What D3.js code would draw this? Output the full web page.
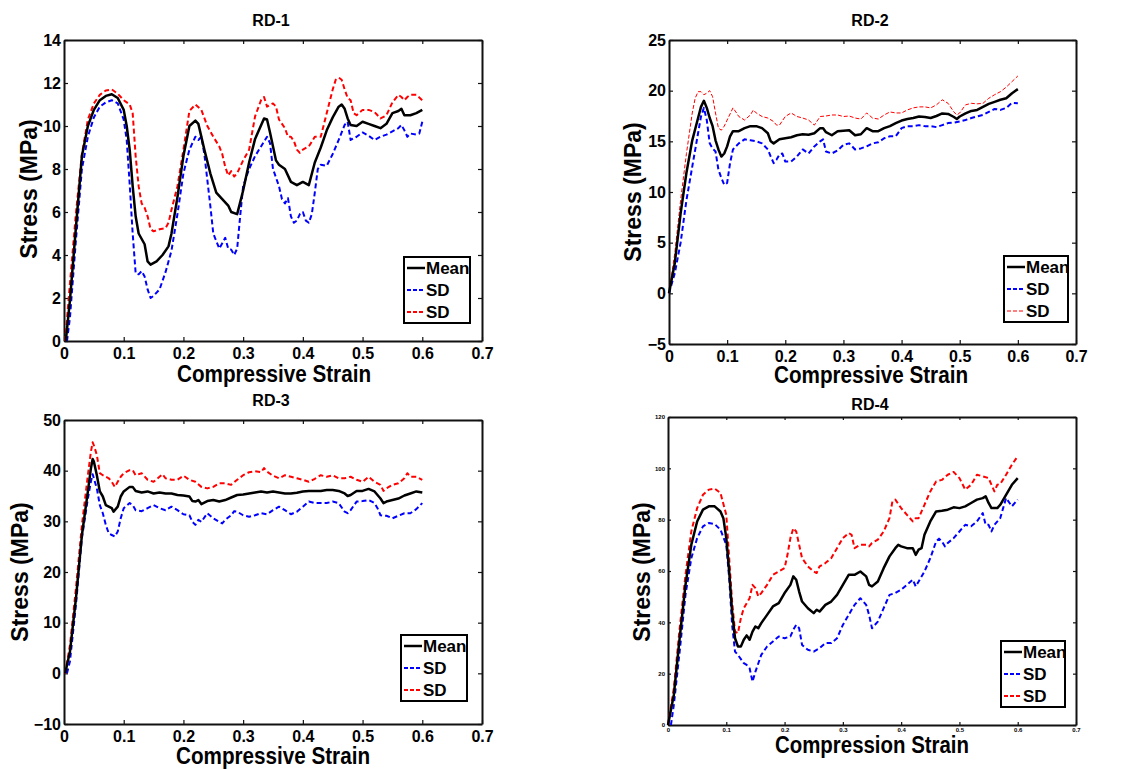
<!DOCTYPE html>
<html><head><meta charset="utf-8">
<script src="https://cdn.jsdelivr.net/npm/d3@7"></script>
<style>
html,body{margin:0;padding:0;background:#fff;}
svg{display:block;font-family:"Liberation Sans",Arial,Helvetica,sans-serif;font-weight:bold;}
</style></head>
<body>
<svg id="chart" width="1144" height="769"></svg>
<script>
// ---------------- DATA ----------------
const xTicks = [0, 0.1, 0.2, 0.3, 0.4, 0.5, 0.6, 0.7];
const rd1YTicks = [0, 2, 4, 6, 8, 10, 12, 14];
const rd2YTicks = [-5, 0, 5, 10, 15, 20, 25];
const rd3YTicks = [-10, 0, 10, 20, 30, 40, 50];
const rd4YTicks = [0, 20, 40, 60, 80, 100, 120];
const legendLabels = ["Mean", "SD", "SD"];
const panelTitles = ["RD-1", "RD-2", "RD-3", "RD-4"];
const xLabels = ["Compressive Strain", "Compressive Strain", "Compressive Strain", "Compression Strain"];
const yLabel = "Stress (MPa)";

// RD-1 [strain, stress]
const rd1Mean = [[0.003,0],[0.01,1.9],[0.02,5.3],[0.03,8.6],[0.04,10.0],[0.05,10.75],[0.06,11.2],[0.07,11.4],[0.08,11.48],[0.09,11.3],[0.1,10.75],[0.105,10.0],[0.11,8.9],[0.115,7.2],[0.12,5.8],[0.125,5.0],[0.135,4.5],[0.14,3.7],[0.145,3.55],[0.155,3.7],[0.165,4.0],[0.175,4.4],[0.18,5.0],[0.19,6.7],[0.2,8.6],[0.21,10.0],[0.22,10.25],[0.225,10.1],[0.235,8.9],[0.245,7.8],[0.255,6.9],[0.265,6.6],[0.275,6.3],[0.28,6.0],[0.29,5.9],[0.3,7.0],[0.31,8.3],[0.32,9.4],[0.335,10.35],[0.34,10.3],[0.345,9.7],[0.355,8.4],[0.36,8.2],[0.37,8.0],[0.38,7.4],[0.39,7.25],[0.4,7.4],[0.41,7.25],[0.42,8.3],[0.43,9.0],[0.44,9.8],[0.45,10.4],[0.46,10.9],[0.465,11.0],[0.47,10.8],[0.475,10.35],[0.48,10.05],[0.49,10.0],[0.5,10.2],[0.51,10.1],[0.52,10.0],[0.53,9.9],[0.54,10.1],[0.55,10.6],[0.56,10.7],[0.565,10.8],[0.57,10.5],[0.58,10.5],[0.59,10.6],[0.6,10.75]];
const rd1SdLow = [[0.005,0],[0.01,1.1],[0.02,4.7],[0.03,8.0],[0.04,9.5],[0.05,10.4],[0.06,10.9],[0.07,11.1],[0.08,11.2],[0.09,11.05],[0.1,10.3],[0.105,9.35],[0.11,7.3],[0.115,5.0],[0.12,3.15],[0.125,3.1],[0.13,3.25],[0.135,3.0],[0.14,2.4],[0.145,2.0],[0.15,2.1],[0.16,2.4],[0.17,3.2],[0.18,4.2],[0.19,5.9],[0.2,7.8],[0.21,8.9],[0.22,9.5],[0.225,9.35],[0.23,9.5],[0.235,8.7],[0.24,7.5],[0.245,6.3],[0.25,5.0],[0.26,4.3],[0.265,4.55],[0.27,4.8],[0.275,4.3],[0.28,4.25],[0.285,4.0],[0.29,4.3],[0.295,5.8],[0.3,7.2],[0.31,8.0],[0.32,8.6],[0.33,9.05],[0.34,9.5],[0.345,9.2],[0.35,8.0],[0.36,7.2],[0.365,6.6],[0.37,6.4],[0.375,6.65],[0.38,5.8],[0.385,5.5],[0.39,5.6],[0.395,5.9],[0.4,6.0],[0.405,5.6],[0.41,5.5],[0.415,5.9],[0.42,6.9],[0.425,8.0],[0.43,8.2],[0.44,8.15],[0.45,8.7],[0.46,9.35],[0.47,10.05],[0.475,10.2],[0.48,9.35],[0.49,9.5],[0.5,9.7],[0.51,9.55],[0.52,9.35],[0.53,9.5],[0.54,9.6],[0.55,9.75],[0.56,9.9],[0.565,10.05],[0.57,9.8],[0.575,9.5],[0.58,9.65],[0.59,9.6],[0.595,9.65],[0.6,10.2]];
const rd1SdHigh = [[0.002,0],[0.01,2.7],[0.02,5.95],[0.03,8.7],[0.04,10.3],[0.05,11.05],[0.06,11.45],[0.07,11.65],[0.08,11.7],[0.09,11.5],[0.1,11.2],[0.11,11.0],[0.115,10.6],[0.12,8.6],[0.125,7.2],[0.13,6.4],[0.135,6.2],[0.14,5.8],[0.145,5.2],[0.15,5.1],[0.16,5.2],[0.17,5.25],[0.175,5.5],[0.18,6.1],[0.19,7.2],[0.2,8.9],[0.21,10.7],[0.22,11.0],[0.23,10.75],[0.24,10.0],[0.25,9.5],[0.26,9.05],[0.265,8.7],[0.27,8.1],[0.275,7.7],[0.28,7.9],[0.285,7.65],[0.29,7.8],[0.3,8.4],[0.31,8.9],[0.32,10.45],[0.33,11.2],[0.335,11.35],[0.34,10.9],[0.35,11.05],[0.355,10.9],[0.36,10.3],[0.37,9.9],[0.375,9.5],[0.38,9.5],[0.385,9.3],[0.39,8.9],[0.395,8.75],[0.4,8.9],[0.41,9.05],[0.42,9.5],[0.43,9.5],[0.44,10.6],[0.45,11.7],[0.455,12.15],[0.46,12.25],[0.465,12.15],[0.47,11.7],[0.475,11.3],[0.48,11.2],[0.485,10.6],[0.49,10.5],[0.5,10.75],[0.51,10.75],[0.52,10.65],[0.53,10.35],[0.54,10.5],[0.55,11.1],[0.56,11.45],[0.565,11.35],[0.57,11.2],[0.575,11.35],[0.58,11.45],[0.59,11.45],[0.6,11.2]];

// RD-2
const rd2Mean = [[0,0],[0.01,3.0],[0.02,7.9],[0.03,11.9],[0.04,15.1],[0.05,17.3],[0.055,18.4],[0.06,19.0],[0.065,18.3],[0.07,17.3],[0.075,16.5],[0.08,15.1],[0.085,14.2],[0.09,13.5],[0.095,13.8],[0.1,14.5],[0.105,15.5],[0.11,16.0],[0.12,16.0],[0.13,16.3],[0.14,16.5],[0.15,16.5],[0.16,16.3],[0.17,15.8],[0.175,15.0],[0.18,14.8],[0.19,15.2],[0.2,15.3],[0.21,15.4],[0.22,15.6],[0.23,15.7],[0.24,15.65],[0.25,15.8],[0.26,16.3],[0.265,16.3],[0.27,15.9],[0.28,15.6],[0.29,16.0],[0.3,16.05],[0.31,16.1],[0.32,15.6],[0.33,15.7],[0.34,16.3],[0.35,16.0],[0.36,16.0],[0.37,16.3],[0.38,16.5],[0.39,16.8],[0.4,17.05],[0.41,17.2],[0.42,17.3],[0.43,17.45],[0.44,17.4],[0.45,17.3],[0.46,17.5],[0.47,17.75],[0.48,17.7],[0.49,17.4],[0.495,17.2],[0.5,17.45],[0.51,17.75],[0.52,18.0],[0.53,18.1],[0.54,18.4],[0.55,18.7],[0.56,18.9],[0.57,19.1],[0.58,19.25],[0.59,19.75],[0.6,20.15]];
const rd2SdLow = [[0,0],[0.01,2.0],[0.02,5.0],[0.03,9.2],[0.04,12.5],[0.05,15.8],[0.055,17.45],[0.06,18.3],[0.065,17.1],[0.07,14.8],[0.075,14.3],[0.08,14.0],[0.085,12.2],[0.09,11.4],[0.095,10.7],[0.1,10.9],[0.105,12.85],[0.11,14.2],[0.12,14.8],[0.13,15.2],[0.14,15.1],[0.15,15.0],[0.16,14.8],[0.17,14.2],[0.175,13.5],[0.18,12.85],[0.185,13.2],[0.19,13.7],[0.195,13.8],[0.2,13.0],[0.21,13.0],[0.22,13.5],[0.23,14.2],[0.24,13.8],[0.25,14.5],[0.26,15.0],[0.265,15.2],[0.27,14.0],[0.28,13.8],[0.29,14.1],[0.3,14.65],[0.31,14.8],[0.32,14.2],[0.33,14.3],[0.34,14.5],[0.35,14.8],[0.36,14.9],[0.37,15.3],[0.38,15.5],[0.39,15.5],[0.4,16.3],[0.41,16.5],[0.42,16.5],[0.43,16.6],[0.44,16.5],[0.45,16.5],[0.46,16.4],[0.47,16.6],[0.48,16.8],[0.49,16.85],[0.5,16.95],[0.51,17.1],[0.52,17.3],[0.53,17.45],[0.54,17.6],[0.55,17.9],[0.56,18.2],[0.57,18.1],[0.58,18.3],[0.59,18.8],[0.6,18.75]];
const rd2SdHigh = [[0,0],[0.01,4.0],[0.02,9.2],[0.03,13.8],[0.04,17.8],[0.045,19.25],[0.05,19.9],[0.055,19.9],[0.06,19.6],[0.065,19.75],[0.07,20.0],[0.075,19.4],[0.08,17.8],[0.085,16.3],[0.09,16.1],[0.095,16.5],[0.1,17.1],[0.11,18.3],[0.115,17.9],[0.12,17.45],[0.13,17.1],[0.14,17.6],[0.145,18.1],[0.15,17.8],[0.16,17.45],[0.17,17.3],[0.18,16.95],[0.185,16.6],[0.19,16.6],[0.2,17.45],[0.21,17.8],[0.22,17.45],[0.23,17.3],[0.24,17.1],[0.25,16.6],[0.26,17.45],[0.27,17.5],[0.28,17.6],[0.29,17.6],[0.3,17.45],[0.31,17.5],[0.32,17.3],[0.33,17.2],[0.34,17.8],[0.35,17.3],[0.36,17.2],[0.37,17.6],[0.38,17.9],[0.39,17.8],[0.4,17.8],[0.41,18.1],[0.42,18.3],[0.43,18.4],[0.44,18.4],[0.45,18.3],[0.46,18.6],[0.47,19.1],[0.48,18.75],[0.49,17.9],[0.495,17.6],[0.5,17.8],[0.51,18.6],[0.52,18.75],[0.53,18.7],[0.54,18.75],[0.55,19.25],[0.56,19.6],[0.57,19.9],[0.58,20.35],[0.59,20.9],[0.6,21.45]];

// RD-3
const rd3Mean = [[0.002,0],[0.01,4.3],[0.02,14.8],[0.03,27.3],[0.04,35.9],[0.045,40.4],[0.048,42.3],[0.05,41.8],[0.055,39.1],[0.06,35.9],[0.065,34.9],[0.07,33.2],[0.075,32.9],[0.08,32.6],[0.083,31.9],[0.09,32.9],[0.095,34.9],[0.1,35.9],[0.11,36.8],[0.115,36.8],[0.12,36.0],[0.13,35.7],[0.14,35.9],[0.15,35.5],[0.16,35.7],[0.17,35.5],[0.18,35.5],[0.19,35.2],[0.2,35.1],[0.21,34.9],[0.215,34.0],[0.22,33.9],[0.225,34.2],[0.23,33.4],[0.24,34.0],[0.25,34.2],[0.26,33.9],[0.27,34.2],[0.28,34.7],[0.29,35.2],[0.3,35.3],[0.31,35.5],[0.32,35.7],[0.33,35.9],[0.34,35.7],[0.35,35.9],[0.36,35.7],[0.37,35.5],[0.38,35.5],[0.39,35.65],[0.4,35.9],[0.41,36.0],[0.42,36.0],[0.43,36.0],[0.44,36.2],[0.45,36.2],[0.46,36.0],[0.47,35.5],[0.475,35.0],[0.48,35.2],[0.49,36.0],[0.5,36.0],[0.51,36.4],[0.52,35.9],[0.53,34.5],[0.535,33.6],[0.54,33.9],[0.55,34.2],[0.56,34.5],[0.57,35.1],[0.58,35.5],[0.59,35.9],[0.6,35.7]];
const rd3SdLow = [[0.005,0],[0.01,2.4],[0.02,13.5],[0.03,26.7],[0.04,34.5],[0.045,37.8],[0.048,39.3],[0.05,38.5],[0.055,36.5],[0.06,33.2],[0.065,31.6],[0.07,29.3],[0.075,27.6],[0.08,27.3],[0.085,27.0],[0.09,28.0],[0.095,30.6],[0.1,32.6],[0.11,33.6],[0.115,33.2],[0.12,32.2],[0.13,32.0],[0.14,32.6],[0.15,33.2],[0.16,32.6],[0.17,32.2],[0.18,32.9],[0.19,32.2],[0.2,31.4],[0.21,31.2],[0.215,29.9],[0.22,29.3],[0.225,30.3],[0.23,29.9],[0.24,31.6],[0.25,30.6],[0.26,29.9],[0.265,29.6],[0.27,30.3],[0.28,31.2],[0.285,32.0],[0.29,31.9],[0.3,31.2],[0.31,30.9],[0.32,31.2],[0.33,31.6],[0.34,31.4],[0.35,32.2],[0.36,32.9],[0.37,32.2],[0.38,31.4],[0.39,31.9],[0.4,32.9],[0.41,33.9],[0.42,33.6],[0.43,33.6],[0.44,33.6],[0.45,33.9],[0.46,33.6],[0.47,31.9],[0.475,31.6],[0.48,32.2],[0.49,33.9],[0.5,34.0],[0.51,34.2],[0.52,33.6],[0.525,32.6],[0.53,31.2],[0.54,31.1],[0.55,30.6],[0.56,31.1],[0.57,31.6],[0.58,31.6],[0.59,32.4],[0.6,33.6]];
const rd3SdHigh = [[0.002,0],[0.01,5.6],[0.02,16.8],[0.03,29.3],[0.04,39.1],[0.045,43.7],[0.048,45.6],[0.05,45.0],[0.055,43.1],[0.06,39.5],[0.065,39.1],[0.07,38.8],[0.075,38.5],[0.08,37.8],[0.085,36.8],[0.09,37.8],[0.095,38.8],[0.1,39.5],[0.11,40.1],[0.115,40.1],[0.12,39.1],[0.13,39.5],[0.14,38.2],[0.15,37.8],[0.16,38.8],[0.165,39.3],[0.17,38.5],[0.18,38.2],[0.19,38.2],[0.2,39.0],[0.21,38.2],[0.22,37.8],[0.23,36.8],[0.24,36.5],[0.25,36.8],[0.26,37.5],[0.27,37.5],[0.28,37.2],[0.29,38.2],[0.3,39.1],[0.31,39.7],[0.32,39.9],[0.33,39.7],[0.335,40.5],[0.34,39.8],[0.35,39.0],[0.36,38.5],[0.37,39.1],[0.38,38.8],[0.39,38.5],[0.4,38.2],[0.41,37.8],[0.42,38.4],[0.43,39.1],[0.44,38.8],[0.45,39.1],[0.46,38.5],[0.47,38.5],[0.48,38.8],[0.49,38.2],[0.5,37.8],[0.51,38.8],[0.52,37.8],[0.53,37.2],[0.535,36.0],[0.54,36.5],[0.55,37.2],[0.56,37.5],[0.57,38.5],[0.575,39.5],[0.58,38.8],[0.59,38.8],[0.6,38.2]];

// RD-4
const rd4Mean = [[0,0],[0.01,11.7],[0.02,33.8],[0.03,54.6],[0.04,70.2],[0.05,79.3],[0.06,83.9],[0.07,85.2],[0.08,85.2],[0.09,83.2],[0.095,80.6],[0.1,72.8],[0.105,59.8],[0.11,44.2],[0.115,33.8],[0.12,30.6],[0.125,30.6],[0.13,33.2],[0.135,34.9],[0.14,33.2],[0.145,36.4],[0.15,38.4],[0.155,37.7],[0.16,39.7],[0.17,42.9],[0.18,46.2],[0.19,47.5],[0.2,51.4],[0.21,54.6],[0.215,57.9],[0.22,56.6],[0.225,52.0],[0.23,48.1],[0.24,45.5],[0.25,43.6],[0.255,44.9],[0.26,44.2],[0.27,46.8],[0.28,48.1],[0.29,50.7],[0.3,54.6],[0.31,58.5],[0.32,58.5],[0.33,59.8],[0.34,57.9],[0.345,54.6],[0.35,54.0],[0.36,55.9],[0.37,61.1],[0.38,65.7],[0.39,68.9],[0.395,70.2],[0.4,69.6],[0.41,68.9],[0.42,68.9],[0.425,66.3],[0.43,68.3],[0.435,68.9],[0.44,74.1],[0.45,79.3],[0.46,83.2],[0.47,83.5],[0.48,83.9],[0.49,84.8],[0.5,84.5],[0.51,85.2],[0.52,86.5],[0.53,87.8],[0.54,88.4],[0.545,89.1],[0.55,86.5],[0.555,84.5],[0.565,84.5],[0.57,85.8],[0.58,89.7],[0.59,93.6],[0.6,96.2]];
const rd4SdLow = [[0.005,0],[0.01,7.8],[0.02,28.6],[0.03,50.7],[0.04,65.0],[0.05,72.8],[0.06,77.4],[0.07,78.7],[0.08,78.3],[0.09,76.1],[0.1,70.2],[0.105,57.2],[0.11,39.0],[0.115,28.6],[0.12,27.3],[0.13,24.1],[0.135,23.4],[0.14,22.1],[0.145,16.9],[0.15,20.8],[0.16,27.3],[0.17,30.6],[0.18,32.5],[0.19,34.5],[0.2,33.8],[0.21,34.5],[0.215,37.1],[0.22,39.0],[0.225,37.7],[0.23,31.2],[0.24,29.3],[0.25,28.6],[0.26,29.9],[0.27,31.9],[0.28,31.9],[0.29,33.8],[0.3,39.0],[0.31,42.9],[0.32,46.8],[0.33,49.4],[0.34,46.8],[0.345,42.9],[0.35,37.7],[0.36,40.3],[0.37,45.5],[0.38,50.7],[0.39,51.4],[0.4,52.7],[0.41,54.6],[0.42,56.6],[0.425,54.0],[0.43,55.9],[0.44,59.8],[0.45,65.0],[0.46,71.5],[0.465,72.6],[0.47,71.5],[0.475,69.6],[0.48,70.9],[0.49,72.8],[0.5,75.4],[0.51,78.0],[0.52,77.4],[0.53,79.3],[0.54,82.6],[0.545,78.0],[0.55,78.0],[0.555,75.4],[0.56,78.0],[0.57,80.6],[0.575,84.5],[0.58,88.4],[0.59,85.2],[0.6,87.8]];
const rd4SdHigh = [[0,0],[0.01,14.3],[0.02,37.7],[0.03,58.5],[0.04,75.4],[0.05,84.5],[0.06,89.7],[0.07,91.7],[0.08,92.1],[0.09,90.4],[0.1,81.9],[0.105,65.0],[0.11,48.1],[0.115,36.4],[0.12,35.8],[0.125,41.6],[0.13,45.5],[0.14,49.4],[0.145,54.6],[0.15,53.3],[0.155,50.1],[0.16,51.4],[0.17,54.6],[0.18,58.5],[0.19,59.8],[0.2,61.1],[0.205,66.3],[0.21,72.8],[0.215,76.7],[0.22,75.4],[0.225,70.2],[0.23,65.0],[0.24,61.8],[0.25,59.8],[0.255,59.2],[0.26,61.8],[0.27,63.1],[0.28,65.0],[0.29,68.9],[0.3,72.8],[0.31,74.8],[0.315,74.1],[0.32,68.9],[0.33,70.2],[0.34,70.2],[0.345,69.6],[0.35,70.9],[0.36,72.2],[0.37,75.4],[0.38,80.6],[0.385,87.1],[0.39,87.8],[0.4,84.5],[0.41,81.9],[0.42,79.3],[0.425,80.6],[0.43,80.6],[0.44,85.8],[0.45,91.0],[0.46,94.9],[0.47,95.5],[0.48,97.5],[0.49,98.6],[0.5,96.2],[0.51,91.7],[0.52,93.6],[0.53,97.5],[0.54,96.9],[0.55,96.2],[0.56,91.0],[0.565,93.6],[0.57,93.9],[0.58,97.5],[0.59,101.4],[0.6,104.7]];

// ---------------- LAYOUT ----------------
const panels = [
  {title: panelTitles[0], xLabel: xLabels[0], yTicks: rd1YTicks, series: [rd1Mean, rd1SdLow, rd1SdHigh],
   box: {l: 64, t: 40, r: 482, b: 341}, titleXY: [271, 26], xLabelXY: [274, 382], yLabelXY: [29, 189],
   tickFont: 16, tickPad: 7, legend: {l: 404, t: 257, w: 66, h: 66}, thinRed: false},
  {title: panelTitles[1], xLabel: xLabels[1], yTicks: rd2YTicks, series: [rd2Mean, rd2SdLow, rd2SdHigh],
   box: {l: 669, t: 40, r: 1076, b: 344}, titleXY: [870, 26], xLabelXY: [871, 383], yLabelXY: [633, 192],
   tickFont: 16, tickPad: 7, legend: {l: 1004, t: 256, w: 64, h: 66}, thinRed: true},
  {title: panelTitles[2], xLabel: xLabels[2], yTicks: rd3YTicks, series: [rd3Mean, rd3SdLow, rd3SdHigh],
   box: {l: 64, t: 420, r: 482, b: 724}, titleXY: [271, 406], xLabelXY: [273, 764], yLabelXY: [20, 572],
   tickFont: 16, tickPad: 7, legend: {l: 401, t: 635, w: 66, h: 66}, thinRed: false},
  {title: panelTitles[3], xLabel: xLabels[3], yTicks: rd4YTicks, series: [rd4Mean, rd4SdLow, rd4SdHigh],
   box: {l: 668, t: 417, r: 1076, b: 725}, titleXY: [870, 410], xLabelXY: [872, 753], yLabelXY: [642, 572],
   tickFont: 6, tickPad: 3, legend: {l: 1001, t: 641, w: 64, h: 66}, thinRed: false}
];

const svg = d3.select("#chart");
const colors = ["#000000", "#0000ff", "#ff0000"];

panels.forEach(p => {
  const g = svg.append("g");
  const {l, t, r, b} = p.box;
  const x = d3.scaleLinear().domain([0, 0.7]).range([l, r]);
  const yd = d3.extent(p.yTicks);
  const y = d3.scaleLinear().domain(yd).range([b, t]);
  const fmtX = d => d === 0 ? "0" : d3.format(".1f")(d);

  const tk = p.tickFont < 10 ? 3 : 4;
  const ax = [
    g.append("g").attr("transform", `translate(0,${b})`).call(d3.axisBottom(x).tickValues(xTicks).tickFormat(fmtX).tickSize(-tk).tickSizeOuter(0).tickPadding(p.tickPad)),
    g.append("g").attr("transform", `translate(${l},0)`).call(d3.axisLeft(y).tickValues(p.yTicks).tickFormat(d3.format("d")).tickSize(-tk).tickSizeOuter(0).tickPadding(3)),
    g.append("g").attr("transform", `translate(0,${t})`).call(d3.axisTop(x).tickValues(xTicks).tickFormat("").tickSize(-tk).tickSizeOuter(0)),
    g.append("g").attr("transform", `translate(${r},0)`).call(d3.axisRight(y).tickValues(p.yTicks).tickFormat("").tickSize(-tk).tickSizeOuter(0))
  ];
  ax.forEach(a => {
    a.attr("font-family", null).attr("font-size", null);
    a.selectAll("text").attr("font-size", p.tickFont).attr("font-weight", "bold").attr("fill", "#000")
      .style("font-family", '"Liberation Sans", Arial, sans-serif');
    a.select(".domain").attr("stroke", "#111").attr("stroke-width", 2);
    a.selectAll(".tick line").attr("stroke", "#111").attr("stroke-width", 1.2);
  });

  const line = d3.line().x(d => x(d[0])).y(d => y(d[1]));
  const order = [2, 1, 0];
  order.forEach(i => {
    const path = g.append("path").datum(p.series[i]).attr("d", line).attr("fill", "none")
      .attr("stroke", colors[i]).attr("stroke-linejoin", "round");
    if (i === 0) path.attr("stroke-width", 2.5);
    else if (i === 2 && p.thinRed) path.attr("stroke-width", 1).attr("stroke-dasharray", "4,2");
    else path.attr("stroke-width", 2).attr("stroke-dasharray", "5,3");
  });

  g.append("text").attr("x", p.titleXY[0]).attr("y", p.titleXY[1]).attr("text-anchor", "middle")
    .attr("font-size", 16).text(p.title);
  g.append("text").attr("x", p.xLabelXY[0]).attr("y", p.xLabelXY[1]).attr("text-anchor", "middle")
    .attr("font-size", 23).attr("textLength", 194).attr("lengthAdjust", "spacingAndGlyphs").text(p.xLabel);
  g.append("text").attr("transform", `translate(${p.yLabelXY[0] + 8},${p.yLabelXY[1]}) rotate(-90)`)
    .attr("text-anchor", "middle").attr("font-size", 23).text(yLabel);

  const L = p.legend;
  const lg = g.append("g");
  lg.append("rect").attr("x", L.l).attr("y", L.t).attr("width", L.w).attr("height", L.h)
    .attr("fill", "#fff").attr("stroke", "#000").attr("stroke-width", 2);
  legendLabels.forEach((name, i) => {
    const cy = L.t + 11 + i * 22;
    const ln = lg.append("line").attr("x1", L.l + 3).attr("x2", L.l + 21).attr("y1", cy).attr("y2", cy)
      .attr("stroke", colors[i]);
    if (i === 0) ln.attr("stroke-width", 2.5);
    else if (i === 2 && p.thinRed) ln.attr("stroke-width", 1).attr("stroke-dasharray", "4,2");
    else ln.attr("stroke-width", 2).attr("stroke-dasharray", "4,2");
    lg.append("text").attr("x", L.l + 22).attr("y", cy + 6).attr("font-size", 17).text(name);
  });
});
</script>
</body></html>
